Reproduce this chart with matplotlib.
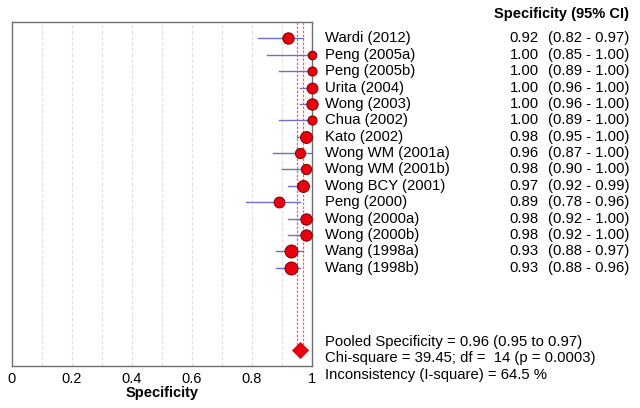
import matplotlib
matplotlib.use("Agg")
import matplotlib.pyplot as plt
import numpy as np

plt.rcParams['font.family'] = ['Liberation Sans', 'DejaVu Sans']

# === Data ===
studies = ["Wardi (2012)", "Peng (2005a)", "Peng (2005b)", "Urita (2004)", "Wong (2003)",
           "Chua (2002)", "Kato (2002)", "Wong WM (2001a)", "Wong WM (2001b)",
           "Wong BCY (2001)", "Peng (2000)", "Wong (2000a)", "Wong (2000b)",
           "Wang (1998a)", "Wang (1998b)"]
spec = [0.92, 1.00, 1.00, 1.00, 1.00, 1.00, 0.98, 0.96, 0.98, 0.97, 0.89, 0.98, 0.98, 0.93, 0.93]
ci_lo = [0.82, 0.85, 0.89, 0.96, 0.96, 0.89, 0.95, 0.87, 0.90, 0.92, 0.78, 0.92, 0.92, 0.88, 0.88]
ci_hi = [0.97, 1.00, 1.00, 1.00, 1.00, 1.00, 1.00, 1.00, 1.00, 0.99, 0.96, 1.00, 1.00, 0.97, 0.96]
# relative study weight (drawn as marker size)
weights = [10.5, 8, 8.5, 10, 10.5, 8.5, 11, 9.5, 9.5, 11, 10, 10.5, 10.5, 12, 12]

pooled = 0.96
pooled_lo = 0.95
pooled_hi = 0.97
stats_text = ["Pooled Specificity = 0.96 (0.95 to 0.97)",
              "Chi-square = 39.45; df =  14 (p = 0.0003)",
              "Inconsistency (I-square) = 64.5 %"]

fig = plt.figure(figsize=(6.4, 4.08), dpi=100)
ax = fig.add_axes([12/640, 1 - 366/408, 300/640, 344/408])

n = len(studies)
rows = np.arange(n)
pooled_row = n + 4

# grid
for g in np.arange(0.1, 1.0, 0.1):
    ax.axvline(g, color='#e2e2e2', lw=0.9, ls=(0, (3, 1.5)), zorder=0)

# pooled CI lines
for v in (pooled_lo, pooled_hi):
    ax.plot([v, v], [-1, pooled_row], color='#f06078', lw=0.9, ls=(0, (2, 1.2)), zorder=1)

# CI lines + points
for i in range(n):
    ax.plot([ci_lo[i], ci_hi[i]], [rows[i], rows[i]], color='#7070c8', lw=1.0, zorder=2)
    ax.plot(spec[i], rows[i], 'o', ms=weights[i] * 0.78, mfc='#e8000f', mec='#7a0000',
            mew=0.7, zorder=3, clip_on=False)

ax.plot(pooled, pooled_row, 'D', ms=8.5, mfc='#e8000f', mec='#c00000', mew=0.5, zorder=3)

ax.set_xlim(0, 1)
ax.set_ylim(20, -1)
ax.set_yticks([])
ax.set_xticks([0, 0.2, 0.4, 0.6, 0.8, 1.0])
ax.set_xticklabels(["0", "0.2", "0.4", "0.6", "0.8", "1"], fontsize=10.5)
ax.tick_params(axis='x', length=0, pad=4)
ax.set_xlabel("Specificity", fontsize=10.5, fontweight='bold', labelpad=0)
for s in ax.spines.values():
    s.set_color('#707070')
    s.set_linewidth(1.0)

# right-hand text
def ypix(r):
    return ax.transData.transform((0, r))[1] / fig.bbox.height

fs = 10.7
for i in range(n):
    y = ypix(rows[i])
    fig.text(325/640, y, studies[i], fontsize=fs, va='center', ha='left')
    fig.text(539/640, y, f"{spec[i]:.2f}", fontsize=fs, va='center', ha='right')
    fig.text(629/640, y, f"({ci_lo[i]:.2f} - {ci_hi[i]:.2f})", fontsize=fs, va='center', ha='right')

fig.text(629/640, 1 - 14/408, "Specificity (95% CI)", fontsize=10.5, fontweight='bold',
         va='center', ha='right')

for k, t in enumerate(stats_text):
    fig.text(325/640, 1 - (342 + 16.3 * k)/408, t, fontsize=fs, va='center', ha='left')

fig.savefig("out.png", dpi=100)
